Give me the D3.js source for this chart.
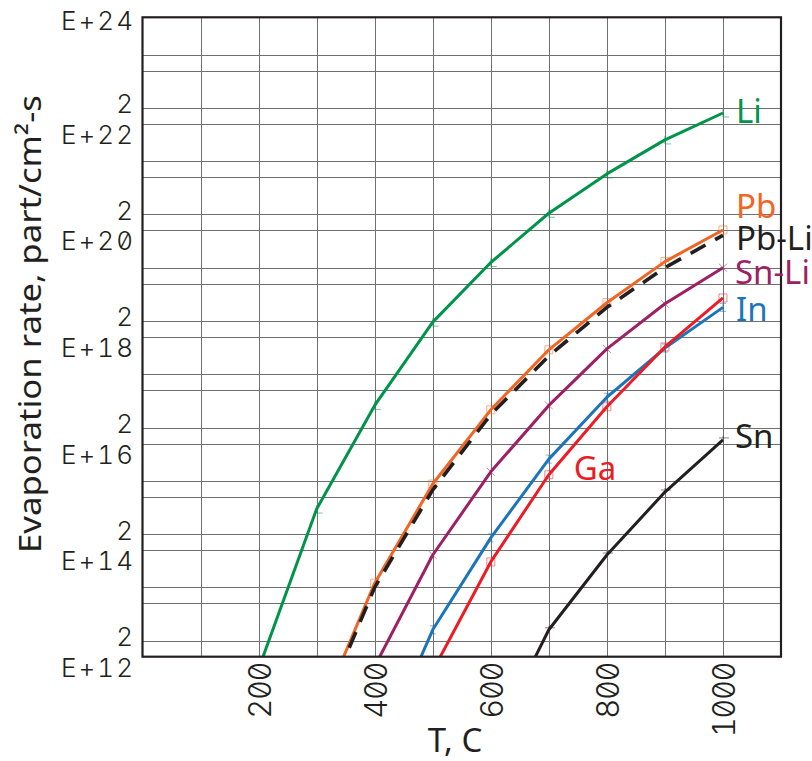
<!DOCTYPE html>
<html>
<head>
<meta charset="utf-8">
<script src="https://cdn.jsdelivr.net/npm/d3@7"></script>
<style>
  body { margin: 0; background: #fff; }
  .tick-font { font-family: Inter, "DejaVu Sans Mono", sans-serif; font-weight: 300;
               font-feature-settings: "zero" 1, "tnum" 1; font-variant-numeric: slashed-zero tabular-nums; }
  .title-font { font-family: "Noto Sans", "Open Sans", sans-serif; }
</style>
</head>
<body>
<svg id="chart" width="812" height="761"></svg>
<script>
// Temperatures (°C) at which evaporation rates are tabulated
const temperatures = [200, 300, 400, 500, 600, 700, 800, 900, 1000];

// Evaporation rates, particles/cm²·s (null = not tabulated)
const liRate   = [5.9e11, 5.9e14, 5.2e16, 1.9e18, 2.5e19, 2.1e20, 1.15e21, 5.0e21, 1.6e22];
const pbRate   = [null, 6.3e10, 2.4e13, 1.74e15, 4.3e16, 5.75e17, 4.4e18, 2.6e19, 1.02e20];
const pbLiRate = [null, 5.2e10, 2.0e13, 1.35e15, 3.5e16, 4.4e17, 3.6e18, 2.0e19, 8.1e19];
const snLiRate = [null, null, 6.6e11, 8.1e13, 2.95e15, 5.2e16, 6.0e17, 4.2e18, 2.0e19];
const inRate   = [null, null, 1.0e10, 3.2e12, 1.7e14, 5.1e15, 7.4e16, 6.2e17, 3.6e18];
const gaRate   = [null, null, null, 5.4e11, 6.0e13, 2.6e15, 4.9e16, 6.5e17, 5.4e18];
const snRate   = [null, null, null, null, 2.1e10, 3.2e12, 8.1e13, 1.23e15, 1.17e16];

// Axis tick labels
const xTickValues = [200, 400, 600, 800, 1000];
const yMajorExponents = [12, 14, 16, 18, 20, 22, 24];

const series = [
  { name: "Li",    values: liRate,   color: "#00944a", marker: "corner" },
  { name: "Pb",    values: pbRate,   color: "#f26522", marker: "square" },
  { name: "Pb-Li", values: pbLiRate, color: "#231f20", marker: null, dash: "17,11", width: 3.6, labelColor: "#231f20" },
  { name: "Sn-Li", values: snLiRate, color: "#9e1f63", marker: "cross" },
  { name: "In",    values: inRate,   color: "#1c75bc", marker: "ibeam" },
  { name: "Ga",    values: gaRate,   color: "#ed1c24", marker: "square" },
  { name: "Sn",    values: snRate,   color: "#231f20", marker: "tick" }
];

// Label placement relative to an anchor point on each curve
const labelPlacement = {
  "Li":    { at: 1000, dx: 13, dy: 10 },
  "Pb":    { at: 1000, dx: 13, dy: -12 },
  "Pb-Li": { at: 1000, dx: 13, dy: 15 },
  "Sn-Li": { at: 1000, dx: 12, dy: 16 },
  "In":    { at: 1000, dx: 13, dy: 14 },
  "Ga":    { at: 700,  dx: 25, dy: 5 },
  "Sn":    { at: 1000, dx: 12, dy: 8 }
};

const svg = d3.select("#chart");
const plotLeft = 142.5, plotRight = 781, plotTop = 17.3, plotBottom = 656.7;

const x = d3.scaleLinear().domain([0, 1100]).range([plotLeft, plotRight]);
const y = d3.scaleLog().domain([1e12, 1e24]).range([plotBottom, plotTop]);

svg.append("defs").append("clipPath").attr("id", "plot-clip")
  .append("rect").attr("x", plotLeft).attr("y", plotTop)
  .attr("width", plotRight - plotLeft).attr("height", plotBottom - plotTop);

// Grid
const grid = svg.append("g").attr("stroke", "#707070").attr("stroke-width", 1).attr("fill", "none");
d3.range(100, 1100, 100).forEach(t => {
  const px = Math.round(x(t)) + 0.5;
  grid.append("line").attr("x1", px).attr("x2", px).attr("y1", plotTop).attr("y2", plotBottom);
});
const hLines = [];
for (let e = 12; e < 24; e++) {
  if (e > 12) hLines.push(Math.pow(10, e));
  hLines.push(2 * Math.pow(10, e));
}
hLines.forEach(v => {
  const py = Math.round(y(v)) + 0.5;
  grid.append("line").attr("x1", plotLeft).attr("x2", plotRight).attr("y1", py).attr("y2", py);
});

// Curves
const plot = svg.append("g").attr("clip-path", "url(#plot-clip)");
const line = d3.line()
  .defined(d => d.v != null)
  .x(d => x(d.t))
  .y(d => y(d.v));

series.forEach(s => {
  const pts = temperatures.map((t, i) => ({ t, v: s.values[i] }));
  plot.append("path")
    .datum(pts)
    .attr("d", line)
    .attr("fill", "none")
    .attr("stroke", s.color)
    .attr("stroke-width", s.width || 3)
    .attr("stroke-linejoin", "round")
    .attr("stroke-dasharray", s.dash || null);

  // small point markers
  if (s.marker) {
    const mk = plot.append("g").attr("stroke", s.color).attr("stroke-width", 0.9)
      .attr("fill", "none").attr("opacity", 0.6);
    pts.filter(d => d.v != null && d.v >= 1e12).forEach(d => {
      const cx = x(d.t), cy = y(d.v), r = 4;
      let path;
      switch (s.marker) {
        case "corner": path = `M${cx},${cy - r}V${cy + r}H${cx + r + 2}`; break;
        case "square": path = `M${cx - r},${cy - r}h${2 * r}v${2 * r}h${-2 * r}Z`; break;
        case "cross":  path = `M${cx - r},${cy - r}L${cx + r},${cy + r}M${cx + r},${cy - r}L${cx - r},${cy + r}`; break;
        case "ibeam":  path = `M${cx},${cy - r}V${cy + r}M${cx - 3},${cy - r}h6M${cx - 3},${cy + r}h6`; break;
        case "tick":   path = `M${cx - r},${cy - r + 2}h${2 * r + 2}M${cx},${cy - r}v${r}`; break;
      }
      mk.append("path").attr("d", path);
    });
  }
});

// Frame
svg.append("rect")
  .attr("x", plotLeft).attr("y", plotTop)
  .attr("width", plotRight - plotLeft).attr("height", plotBottom - plotTop)
  .attr("fill", "none").attr("stroke", "#231f20").attr("stroke-width", 2.2);

// Y tick labels
const yLabels = svg.append("g").attr("class", "tick-font").attr("fill", "#231f20")
  .attr("font-size", 26).attr("text-anchor", "end").attr("letter-spacing", 2);
yMajorExponents.forEach(e => {
  const py = y(Math.pow(10, e));
  yLabels.append("text")
    .attr("x", 135).attr("y", e === 24 ? py + 13 : py + 20)
    .text("E+" + e);
  if (e < 24) {
    yLabels.append("text")
      .attr("x", 135).attr("y", y(2 * Math.pow(10, e)) + 5.5)
      .text("2");
  }
});

// X tick labels (rotated)
const xLabels = svg.append("g").attr("class", "tick-font").attr("fill", "#231f20")
  .attr("font-size", 31).attr("text-anchor", "end").attr("letter-spacing", -1.5);
xTickValues.forEach(t => {
  xLabels.append("text")
    .attr("transform", `translate(${x(t) + 12},663) rotate(-90)`)
    .text(String(t));
});

// Axis titles
svg.append("text").attr("class", "title-font")
  .attr("fill", "#231f20").attr("font-size", 31)
  .attr("text-anchor", "middle")
  .attr("transform", "translate(41,324) rotate(-90)")
  .attr("textLength", 458).attr("lengthAdjust", "spacingAndGlyphs")
  .text("Evaporation rate, part/cm²-s");

svg.append("text").attr("class", "title-font")
  .attr("fill", "#231f20").attr("font-size", 33)
  .attr("text-anchor", "middle")
  .attr("x", 455).attr("y", 752)
  .text("T, C");

// Series labels
const labels = svg.append("g").attr("class", "title-font").attr("font-size", 33);
series.forEach(s => {
  const p = labelPlacement[s.name];
  const i = temperatures.indexOf(p.at);
  labels.append("text")
    .attr("x", x(p.at) + p.dx)
    .attr("y", y(s.values[i]) + p.dy)
    .attr("fill", s.labelColor || s.color)
    .text(s.name);
});
</script>
</body>
</html>
